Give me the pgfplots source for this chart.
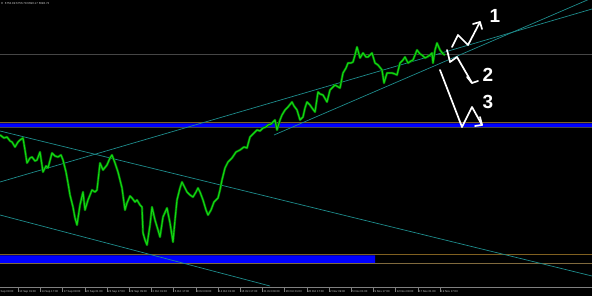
\documentclass[border=0pt]{standalone}
\usepackage{fontspec}
\setmainfont{Liberation Sans}
\usepackage{pgfplots}
\pgfplotsset{compat=1.18}
\definecolor{tealln}{RGB}{30,140,140}
\definecolor{brn}{RGB}{128,96,32}
\definecolor{gline}{RGB}{70,70,70}
\definecolor{cand}{RGB}{20,215,20}
\definecolor{canddk}{RGB}{0,110,0}
\definecolor{mtblue}{RGB}{0,0,255}
\definecolor{lbl}{RGB}{200,200,200}
\tikzset{tl/.style={anchor=west,text=lbl,font=\fontsize{2.8}{3}\selectfont,inner sep=0}}
\pgfplotstableread{
x y
0 135
4 138
7 137
10 141
12 142
15 147
18 142
20 140
23 138
25 150
27 163
30 158
32 157
35 161
37 160
40 152
43 172
46 166
48 168
52 153
55 156
58 157
61 155
63 160
66 172
68 183
70 195
73 207
75 218
77 225
80 205
83 192
85 210
88 200
92 190
95 192
97 190
100 163
103 170
107 165
110 158
112 155
115 163
118 172
122 188
125 210
127 203
130 196
132 198
135 202
137 200
140 205
142 207
143 233
145 240
147 245
150 225
152 207
155 220
158 230
160 237
163 217
167 208
170 223
173 242
175 220
177 200
180 188
182 182
185 188
187 192
190 195
193 197
196 192
198 188
200 192
203 200
206 210
208 215
211 210
214 202
218 198
220 190
222 180
225 168
228 162
232 158
236 152
240 150
244 147
247 148
250 137
254 133
257 130
260 131
263 128
266 127
268 125
271 124
275 120
277 130
280 120
282 115
285 110
288 107
292 102
294 106
297 110
300 120
303 117
305 108
307 102
310 105
312 108
315 112
318 92
320 94
323 95
327 102
330 90
333 87
335 85
340 88
343 73
346 68
348 63
351 63
353 62
355 55
357 47
360 58
363 53
366 57
368 57
372 53
375 63
378 65
382 70
384 83
387 73
390 73
392 73
395 74
397 75
400 63
403 60
405 57
408 63
411 61
413 60
417 50
420 54
422 55
425 58
427 57
430 55
432 53
433 63
435 50
437 43
440 50
443 54
445 55
}\price
\begin{document}
\begin{tikzpicture}
\useasboundingbox (0,0) rectangle (592pt,296pt);
\fill[black] (0,0) rectangle (592pt,296pt);
\clip (0,0) rectangle (592pt,296pt);
\begin{axis}[at={(0,0)},anchor=south west,width=592pt,height=296pt,scale only axis,
  xmin=0,xmax=592,ymin=0,ymax=296,y dir=reverse,hide axis,clip=true]
% horizontal levels
\addplot[gline,line width=0.8pt] coordinates {(0,54) (592,54)};
\addplot[brn,line width=0.6pt] coordinates {(0,122.3) (592,122.3)};
\addplot[fill=mtblue,draw=none] coordinates {(0,123.3) (592,123.3) (592,127) (0,127) (0,123.3)};
\addplot[gline,line width=0.6pt] coordinates {(0,127.8) (592,127.8)};
\addplot[brn,line width=0.6pt] coordinates {(0,254.5) (592,254.5)};
\addplot[fill=mtblue,draw=none] coordinates {(0,255.5) (375,255.5) (375,263) (0,263) (0,255.5)};
\addplot[brn!70!gray,line width=0.6pt] coordinates {(0,263.5) (592,263.5)};
% trend lines
\addplot[tealln,line width=0.7pt] coordinates {(0,131) (592,276)};
\addplot[tealln,line width=0.7pt] coordinates {(0,215) (270,286)};
\addplot[tealln,line width=0.7pt] coordinates {(0,182) (592,9)};
\addplot[tealln,line width=0.7pt] coordinates {(274,135) (592,-2)};
% price
\addplot[canddk,line width=2.4pt,line join=round] table[x=x,y=y] {\price};
\addplot[cand,line width=1.1pt,line join=round] table[x=x,y=y] {\price};
% hand-drawn arrows
\addplot[white,line width=1.7pt,line cap=round,line join=round] coordinates {(452,47) (458,35) (468,45) (480,22)};
\addplot[white,line width=1.7pt,line cap=round,line join=round] coordinates {(473,24) (480,22) (482,29)};
\addplot[white,line width=1.7pt,line cap=round,line join=round] coordinates {(447,50) (450,62) (457,57) (472,83)};
\addplot[white,line width=1.7pt,line cap=round,line join=round] coordinates {(467,77) (472,83) (478,81)};
\addplot[white,line width=1.7pt,line cap=round,line join=round] coordinates {(440,70) (462,127) (472,107) (482,125)};
\addplot[white,line width=1.7pt,line cap=round,line join=round] coordinates {(480,117) (482,125) (475,126)};
\node[text=white,font=\bfseries\fontsize{19}{19}\selectfont,inner sep=0] at (axis cs:495,16) {1};
\node[text=white,font=\bfseries\fontsize{19}{19}\selectfont,inner sep=0] at (axis cs:488,75) {2};
\node[text=white,font=\bfseries\fontsize{19}{19}\selectfont,inner sep=0] at (axis cs:488,102) {3};
% header
\node[anchor=west,text=lbl,font=\fontsize{2.9}{3}\selectfont,inner sep=0] at (axis cs:1,3.5) {H\ \ 6753.89 6756.78 6690.17 6698.73};
% time axis
\addplot[gray,line width=0.6pt] coordinates {(0,287.5) (592,287.5)};
\pgfplotsinvokeforeach{18.2,40.4,62.6,84.8,107,129.2,151.4,173.6,195.8,218,240.2,262.4,284.6,306.8,329,351.2,373.4,395.6,417.8,440}{
  \addplot[gray,line width=0.4pt] coordinates {(#1,287.5) (#1,292)};
}
\node[tl] at (axis cs:0.5,291.5) {Sep 09:00};
\node[tl] at (axis cs:19.2,291.5) {10 Sep 01:00};
\node[tl] at (axis cs:41.4,291.5) {14 Sep 17:00};
\node[tl] at (axis cs:63.6,291.5) {17 Sep 09:00};
\node[tl] at (axis cs:85.8,291.5) {22 Sep 01:00};
\node[tl] at (axis cs:108,291.5) {24 Sep 17:00};
\node[tl] at (axis cs:130.2,291.5) {29 Sep 09:00};
\node[tl] at (axis cs:152.4,291.5) {2 Oct 01:00};
\node[tl] at (axis cs:174.6,291.5) {6 Oct 17:00};
\node[tl] at (axis cs:196.8,291.5) {9 Oct 09:00};
\node[tl] at (axis cs:219,291.5) {14 Oct 01:00};
\node[tl] at (axis cs:241.2,291.5) {16 Oct 17:00};
\node[tl] at (axis cs:263.4,291.5) {21 Oct 09:00};
\node[tl] at (axis cs:285.6,291.5) {26 Oct 01:00};
\node[tl] at (axis cs:307.8,291.5) {28 Oct 17:00};
\node[tl] at (axis cs:330,291.5) {2 Nov 09:00};
\node[tl] at (axis cs:352.2,291.5) {5 Nov 01:00};
\node[tl] at (axis cs:374.4,291.5) {9 Nov 17:00};
\node[tl] at (axis cs:396.6,291.5) {12 Nov 09:00};
\node[tl] at (axis cs:418.8,291.5) {17 Nov 01:00};
\node[tl] at (axis cs:441,291.5) {19 Nov 17:00};
\end{axis}
\end{tikzpicture}
\end{document}
